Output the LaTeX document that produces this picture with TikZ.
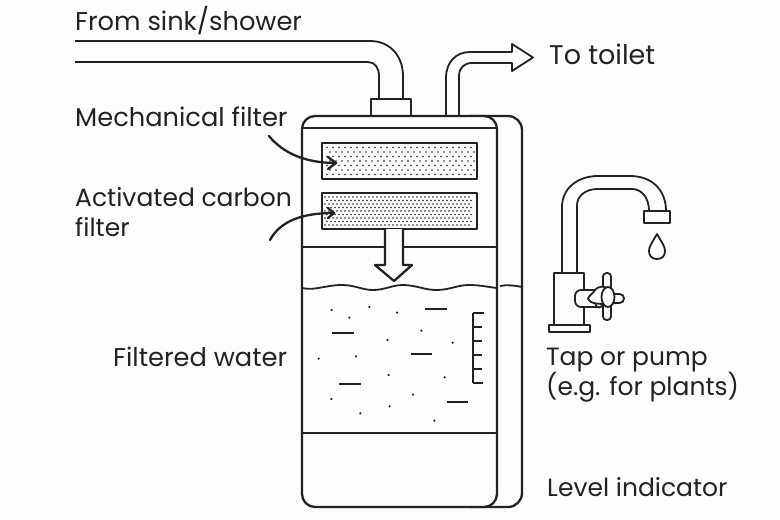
\documentclass[tikz,border=0pt]{standalone}
\usepackage{fontspec}
\setmainfont{Poppins}
\definecolor{ink}{HTML}{222222}
\definecolor{paper}{HTML}{FDFDFD}
\tikzset{
  ln/.style={draw=ink,line width=1.8pt,line join=round},
  thick2/.style={draw=ink,line width=2.3pt,line join=round},
  lab/.style={anchor=west,inner sep=0pt,text=ink,font=\fontsize{25}{30}\selectfont,align=left},
  labw/.style={lab,font=\fontsize{25.7}{30}\selectfont},
  dotp/.style={fill=ink,draw=none},
}
\begin{document}
\begin{tikzpicture}[x=1pt,y=-1pt]
\useasboundingbox (0,0) rectangle (780,520);
\fill[paper] (0,0) rectangle (780,520);
% back tank
\draw[thick2,rounded corners=14pt] (470,116) -- (522,116) -- (522,507) -- (470,507);
% pipes
\draw[ln] (75,41) -- (370,41) .. controls (390,41) and (403,56) .. (403,76) -- (403,99);
\draw[ln] (75,62) -- (368,62) .. controls (375,62) and (379,68) .. (379,76) -- (379,99);
\draw[ln] (446,116) -- (446,78) .. controls (446,62) and (456,52) .. (470,52) -- (512,52) -- (512,44) -- (533,57.5) -- (512,71) -- (512,63) -- (472,63) .. controls (464,63) and (459,68) .. (459,76) -- (459,116);
\draw[ln,fill=paper] (371,116) -- (371,99) -- (411,99) -- (411,116);
% main tank
\draw[thick2,fill=paper,rounded corners=13pt] (400,116) -- (497,116) -- (497,507) -- (302,507) -- (302,116) -- cycle;
\draw[ln] (302,128) -- (497,128);
\draw[ln] (302,247) -- (385,247);
\draw[ln] (403,247) -- (497,247);
\draw[ln] (302,433) -- (497,433);
% water
\draw[ln] (302,288) .. controls (315,291) and (325,285) .. (342,285) .. controls (355,285) and (362,290) .. (373,290) .. controls (385,290) and (392,285) .. (403,285) .. controls (415,285) and (425,290) .. (436,290) .. controls (450,290) and (457,285) .. (469,285) .. controls (480,285) and (488,287) .. (497,288);
\draw[ln] (500,286) .. controls (507,284.5) and (515,285.5) .. (522,287);
% filters
\draw[thick2] (322,143) rectangle (477,179);
\draw[thick2] (322,193) rectangle (477,229);
\foreach \r in {0,...,6}{
  \pgfmathsetmacro{\yy}{147.5+\r*4.5}
  \pgfmathsetmacro{\xo}{mod(\r,2)==0 ? 327 : 330}
  \foreach \c in {0,...,24}{
    \fill[dotp] ({\xo+\c*6},\yy) circle (0.85);
  }
}
\foreach \r in {0,...,8}{
  \pgfmathsetmacro{\yy}{197+\r*3.5}
  \pgfmathsetmacro{\xo}{mod(\r,2)==0 ? 325 : 327}
  \foreach \c in {0,...,36}{
    \fill[dotp] ({\xo+\c*4},\yy) circle (0.85);
  }
}
% down arrow
\draw[thick2,fill=paper] (385,229) -- (385,265) -- (375,265) -- (394,281) -- (412,265) -- (403,265) -- (403,229);
% leaders
\draw[thick2,line cap=round] (269,136) .. controls (283,153) and (305,163) .. (336,163);
\draw[thick2,line cap=round] (328,157) -- (336,163) -- (328,169);
\draw[thick2,line cap=round] (270,240) .. controls (280,222) and (300,213) .. (334,213);
\draw[thick2,line cap=round] (328,208) -- (334,213) -- (328,218);
% level
\draw[ln,line width=2.4pt] (473,313) -- (473,383);
\foreach \yy/\xe in {313/484,327/482,341/482,355/482,369/482,383/483}{
  \draw[ln] (473,\yy) -- (\xe,\yy);
}
% particles
\foreach \xx/\yy in {125/90,178/113,238/81,321/98,394/152,292/180,488/188,86/236,198/229,296/285,464/292,124/357,369/344,299/379,211/400,433/422}{
  \fill[dotp] ({290+\xx/3},{280+\yy/3}) circle (1.2);
}
\foreach \xa/\xb/\yy in {406/470/87,125/191/160,362/427/221,147/213/313,470/533/366}{
  \draw[ln] ({290+\xa/3},{280+\yy/3}) -- ({290+\xb/3},{280+\yy/3});
}
% tap
\draw[ln] (562,273) -- (562,207) .. controls (562,188) and (578,176) .. (598,176) -- (630,176) .. controls (652,176) and (666,190) .. (666,211);
\draw[ln] (577,273) -- (577,205) .. controls (577,196) and (586,189) .. (597,189) -- (632,189) .. controls (642,189) and (649,198) .. (649,211);
\draw[ln] (644,211) rectangle (670,223);
\draw[ln] (657,234) .. controls (652,243) and (649,246) .. (649,251) .. controls (649,256) and (652,259) .. (657,259) .. controls (662,259) and (665,256) .. (665,251) .. controls (665,246) and (662,243) .. (657,234) -- cycle;
\draw[ln] (554,325) -- (554,273) -- (584,273) -- (584,325);
\draw[ln] (549,325) rectangle (590,332);
\draw[ln,fill=paper,rounded corners=6pt] (600,290) -- (575,290) -- (575,307) -- (600,307);
\draw[ln,fill=paper,rounded corners=3.5pt] (603,273) rectangle (611,320);
\draw[ln,fill=paper] (607,294) -- (619.5,294) .. controls (625.5,294) and (625.5,303) .. (619.5,303) -- (607,303) -- cycle;
\draw[ln,fill=paper] (599,304) circle (3.5);
\draw[ln,fill=paper] (588,299) .. controls (589,295) and (593,294) .. (595,290) .. controls (598,286) and (604,286) .. (607,288) -- (607,304) .. controls (600,304) and (590,304) .. (588,299) -- cycle;
\draw[ln,fill=paper] (608,297) ellipse (6.5 and 10);
% labels
\node[labw] (from) at (75,21) {From sink/shower};
\node[lab,font=\fontsize{27}{30}\selectfont] (totoilet) at (549,54) {To toilet};
\node[labw] (mech) at (75,117) {Mechanical filter};
\node[lab] (carbon) at (75,212) {Activated carbon\\filter};
\node[labw] (fw) at (113,357) {Filtered water};
\node[lab] (tap) at (546,375) {Tap or pump\\(e.g. for plants)};
\node[lab] (level) at (547,487) {Level indicator};
\end{tikzpicture}
\end{document}
